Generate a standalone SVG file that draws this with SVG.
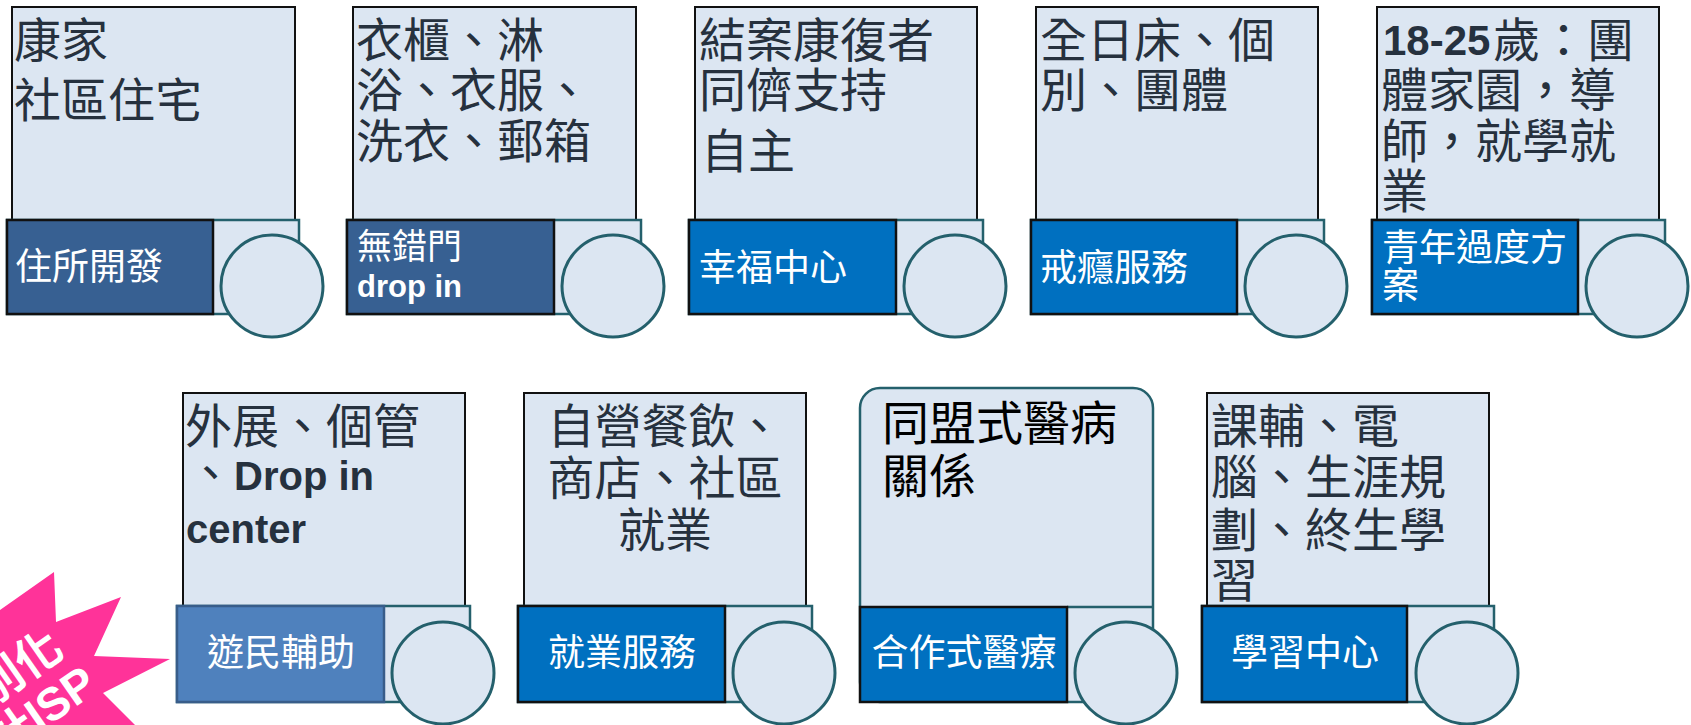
<svg xmlns="http://www.w3.org/2000/svg" width="1691" height="725" viewBox="0 0 1691 725">
<style>
.top{fill:#DCE6F2;stroke:#111;stroke-width:2}
.ban{fill:#DCE6F2;stroke:#24606C;stroke-width:2.5}
.lab1{fill:#376092;stroke:#111;stroke-width:2.5}
.lab2{fill:#0070C0;stroke:#111;stroke-width:2.5}
.lab3{fill:#4F81BD;stroke:#385D8A;stroke-width:2.5}
.cir{fill:#DCE6F2;stroke:#24606C;stroke-width:3}
.t{font-family:"Noto Sans CJK TC","Noto Sans CJK SC",sans-serif;font-size:47px;fill:#26313E}
.b{font-family:"Liberation Sans","Noto Sans CJK TC",sans-serif;font-weight:bold}
.l{font-family:"Noto Sans CJK TC","Noto Sans CJK SC",sans-serif;font-size:37px;fill:#fff}
.star{font-family:"Liberation Sans","Noto Sans CJK TC",sans-serif;font-weight:bold;fill:#fff;font-size:46px}
</style>
<rect width="1691" height="725" fill="#fff"/>

<g id="starburst">
<polygon points="0,610 54,572 56,622 121,597 94,656 170,659 103,693 135,725 0,725" fill="#FF3399"/>
<text class="star" transform="translate(66,654) rotate(-35)" text-anchor="end">別化</text>
<text class="star" transform="translate(100,690) rotate(-35)" text-anchor="end">計ISP</text>
</g>

<g id="node1">
<rect class="top" x="12" y="7" width="283" height="213"/>
<rect class="ban" x="7" y="220" width="292" height="94"/>
<rect class="lab1" x="7" y="220" width="206" height="94"/>
<circle class="cir" cx="272" cy="286" r="51"/>
<text class="t" x="14"><tspan x="14" y="57">康家</tspan><tspan x="14" y="117">社區住宅</tspan></text>
<text class="l" x="15" y="280">住所開發</text>
</g>

<g id="node2">
<rect class="top" x="353" y="7" width="283" height="213"/>
<rect class="ban" x="347" y="220" width="294" height="94"/>
<rect class="lab1" x="347" y="220" width="207" height="94"/>
<circle class="cir" cx="613" cy="286" r="51"/>
<text class="t"><tspan x="356" y="57">衣櫃、淋</tspan><tspan x="356" y="107">浴、衣服、</tspan><tspan x="356" y="158">洗衣、郵箱</tspan></text>
<text class="l" x="357" y="259" style="font-size:35px">無錯門</text>
<text class="b" x="357" y="297" style="font-size:31px;fill:#fff">drop in</text>
</g>

<g id="node3">
<rect class="top" x="695" y="7" width="282" height="213"/>
<rect class="ban" x="689" y="220" width="294" height="94"/>
<rect class="lab2" x="689" y="220" width="207" height="94"/>
<circle class="cir" cx="955" cy="286" r="51"/>
<text class="t"><tspan x="699" y="57">結案康復者</tspan><tspan x="699" y="107">同儕支持</tspan><tspan x="701" y="168">自主</tspan></text>
<text class="l" x="699" y="281">幸福中心</text>
</g>

<g id="node4">
<rect class="top" x="1036" y="7" width="282" height="213"/>
<rect class="ban" x="1031" y="220" width="293" height="94"/>
<rect class="lab2" x="1031" y="220" width="206" height="94"/>
<circle class="cir" cx="1296" cy="286" r="51"/>
<text class="t"><tspan x="1040" y="57">全日床、個</tspan><tspan x="1040" y="107">別、團體</tspan></text>
<text class="l" x="1040" y="281">戒癮服務</text>
</g>

<g id="node5">
<rect class="top" x="1377" y="7" width="282" height="213"/>
<rect class="ban" x="1372" y="220" width="293" height="94"/>
<rect class="lab2" x="1372" y="220" width="206" height="94"/>
<circle class="cir" cx="1637" cy="286" r="51"/>
<text class="t"><tspan x="1383" y="55" class="b" style="font-size:42px">18-25</tspan><tspan x="1493" y="57">歲：團</tspan><tspan x="1381" y="107">體家園，導</tspan><tspan x="1381" y="158">師，就學就</tspan><tspan x="1381" y="208">業</tspan></text>
<text class="l"><tspan x="1382" y="261">青年過度方</tspan><tspan x="1382" y="299">案</tspan></text>
</g>

<g id="node6">
<rect class="top" x="183" y="393" width="282" height="213"/>
<rect class="ban" x="177" y="606" width="293" height="96"/>
<rect class="lab3" x="177" y="606" width="207" height="96"/>
<circle class="cir" cx="443" cy="673" r="51"/>
<text class="t"><tspan x="185" y="443">外展、個管</tspan></text>
<text class="t" x="187" y="490">、<tspan class="b" style="font-size:40px">Drop in</tspan></text>
<text class="t b" x="186" y="543" style="font-size:40px">center</text>
<text class="l" x="281" y="666" text-anchor="middle">遊民輔助</text>
</g>

<g id="node7">
<rect class="top" x="524" y="393" width="282" height="213"/>
<rect class="ban" x="518" y="606" width="294" height="96"/>
<rect class="lab2" x="518" y="606" width="207" height="96"/>
<circle class="cir" cx="784" cy="673" r="51"/>
<text class="t" text-anchor="middle"><tspan x="665" y="443">自營餐飲、</tspan><tspan x="665" y="495">商店、社區</tspan><tspan x="665" y="547">就業</tspan></text>
<text class="l" x="622" y="666" text-anchor="middle">就業服務</text>
</g>

<g id="node8">
<rect x="860" y="388" width="293" height="314" rx="20" fill="#DCE6F2" stroke="#24606C" stroke-width="2.5"/>
<line x1="1067" y1="607" x2="1153" y2="607" stroke="#24606C" stroke-width="2.5"/>
<rect class="lab2" x="860" y="607" width="207" height="95"/>
<circle class="cir" cx="1126" cy="673" r="51"/>
<text class="t" style="fill:#000"><tspan x="882" y="440">同盟式醫病</tspan><tspan x="882" y="493">關係</tspan></text>
<text class="l" x="964" y="666" text-anchor="middle">合作式醫療</text>
</g>

<g id="node9">
<rect class="top" x="1207" y="393" width="282" height="213"/>
<rect class="ban" x="1202" y="606" width="292" height="96"/>
<rect class="lab2" x="1202" y="606" width="205" height="96"/>
<circle class="cir" cx="1467" cy="673" r="51"/>
<text class="t"><tspan x="1211" y="443">課輔、電</tspan><tspan x="1211" y="494">腦、生涯規</tspan><tspan x="1211" y="547">劃、終生學</tspan><tspan x="1211" y="597">習</tspan></text>
<text class="l" x="1305" y="666" text-anchor="middle">學習中心</text>
</g>
</svg>
